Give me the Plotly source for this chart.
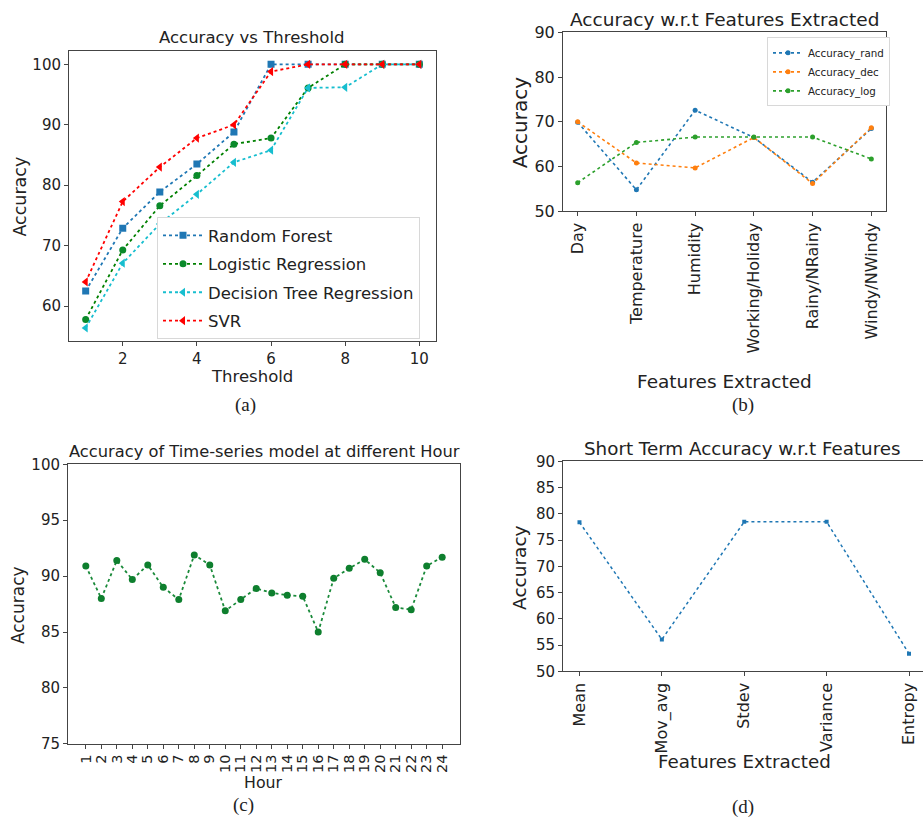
import plotly.graph_objects as go

W, H = 923, 831

# ---------------- data ----------------
thresholds = [1, 2, 3, 4, 5, 6, 7, 8, 9, 10]
acc_rf = [62.5, 72.9, 78.9, 83.5, 88.8, 100, 100, 100, 100, 100]
acc_lr = [57.8, 69.3, 76.6, 81.6, 86.8, 87.8, 96.1, 100, 100, 100]
acc_dt = [56.4, 67.1, 73.6, 78.5, 83.8, 85.8, 96.1, 96.2, 100, 100]
acc_svr = [64.0, 77.3, 83.0, 87.8, 90.0, 98.8, 100, 100, 100, 100]

features_b = ["Day", "Temperature", "Humidity", "Working/Holiday", "Rainy/NRainy", "Windy/NWindy"]
acc_rand = [69.9, 54.8, 72.6, 66.5, 56.5, 68.5]
acc_dec = [70.0, 60.8, 59.7, 66.5, 56.2, 68.7]
acc_log = [56.4, 65.4, 66.6, 66.6, 66.6, 61.7]

hours = list(range(1, 25))
acc_hour = [90.9, 88.0, 91.4, 89.7, 91.0, 89.0, 87.9, 91.9, 91.0, 86.9, 87.9, 88.9,
            88.5, 88.3, 88.2, 85.0, 89.8, 90.7, 91.5, 90.3, 87.2, 87.0, 90.9, 91.7]

features_d = ["Mean", "Mov_avg", "Stdev", "Variance", "Entropy"]
acc_short = [78.4, 56.1, 78.5, 78.5, 53.4]

# ---------------- helpers ----------------
FONT = "DejaVu Sans"
AX = "#444444"

def px(x):
    return x / W

def py(y):
    return 1 - y / H

def dom_x(a, b):
    return [px(a), px(b)]

def dom_y(top, bottom):
    return [py(bottom), py(top)]

fig = go.Figure()

# Panel (a)
fig.add_trace(go.Scatter(x=thresholds, y=acc_rf, name="Random Forest", mode="lines+markers",
                         line=dict(color="#1f77b4", dash="dot", width=1.8),
                         marker=dict(symbol="square", size=7, color="#1f77b4"),
                         xaxis="x", yaxis="y", legend="legend", legendgroup="g1"))
fig.add_trace(go.Scatter(x=thresholds, y=acc_lr, name="Logistic Regression", mode="lines+markers",
                         line=dict(color="#008000", dash="dot", width=1.8),
                         marker=dict(symbol="circle", size=7, color="#0a8a2a"),
                         xaxis="x", yaxis="y", legend="legend", legendgroup="g2"))
fig.add_trace(go.Scatter(x=thresholds, y=acc_dt, name="Decision Tree Regression", mode="lines+markers",
                         line=dict(color="#17becf", dash="dot", width=1.8),
                         marker=dict(symbol="triangle-left", size=8, color="#17becf"),
                         xaxis="x", yaxis="y", legend="legend", legendgroup="g3"))
fig.add_trace(go.Scatter(x=thresholds, y=acc_svr, name="SVR", mode="lines+markers",
                         line=dict(color="#ff0000", dash="dot", width=1.8),
                         marker=dict(symbol="triangle-left", size=8, color="#ff0000"),
                         xaxis="x", yaxis="y", legend="legend", legendgroup="g4"))

# Panel (b)
for name, vals, col in [("Accuracy_rand", acc_rand, "#1f77b4"),
                        ("Accuracy_dec", acc_dec, "#ff7f0e"),
                        ("Accuracy_log", acc_log, "#2ca02c")]:
    fig.add_trace(go.Scatter(x=features_b, y=vals, name=name, mode="lines+markers",
                             line=dict(color=col, dash="dot", width=1.6),
                             marker=dict(symbol="circle", size=5, color=col),
                             xaxis="x2", yaxis="y2", legend="legend2"))

# Panel (c)
fig.add_trace(go.Scatter(x=hours, y=acc_hour, name="Hour", mode="lines+markers",
                         line=dict(color="#1a8a3a", dash="dot", width=1.8),
                         marker=dict(symbol="circle", size=7, color="#0e7f2e"),
                         xaxis="x3", yaxis="y3", showlegend=False))

# Panel (d)
fig.add_trace(go.Scatter(x=features_d, y=acc_short, name="Short", mode="lines+markers",
                         line=dict(color="#1f77b4", dash="dot", width=1.5),
                         marker=dict(symbol="square", size=4, color="#1f77b4"),
                         xaxis="x4", yaxis="y4", showlegend=False))

axis_common = dict(showline=True, linecolor=AX, linewidth=1, ticks="outside", ticklen=4,
                   tickcolor=AX, showgrid=False, zeroline=False,
                   tickfont=dict(family=FONT, size=15, color="#222"))

fig.update_layout(
    width=W, height=H, margin=dict(l=0, r=0, t=0, b=0),
    paper_bgcolor="white", plot_bgcolor="white",
    font=dict(family=FONT, color="#222"),
    xaxis=dict(axis_common, domain=dom_x(69, 436), range=[0.55, 10.45],
               tickvals=[2, 4, 6, 8, 10], mirror=True, anchor="y"),
    yaxis=dict(axis_common, domain=dom_y(43, 340), range=[54.2, 102.2],
               tickvals=[60, 70, 80, 90, 100], mirror=True, anchor="x"),
    xaxis2=dict(axis_common, domain=dom_x(563, 886), range=[-0.25, 5.25], type="category",
                tickangle=-90, mirror=True, anchor="y2",
                tickfont=dict(family=FONT, size=16, color="#222")),
    yaxis2=dict(axis_common, domain=dom_y(24, 207), range=[50, 90],
                tickvals=[50, 60, 70, 80, 90], mirror=True, anchor="x2",
                tickfont=dict(family=FONT, size=16, color="#222")),
    xaxis3=dict(axis_common, domain=dom_x(68, 460), range=[-0.15, 25.15],
                tickvals=hours, tickangle=-90, mirror=True, anchor="y3",
                tickfont=dict(family=FONT, size=14.5, color="#222")),
    yaxis3=dict(axis_common, domain=dom_y(466, 752), range=[75, 100],
                tickvals=[75, 80, 85, 90, 95, 100], mirror=True, anchor="x3"),
    xaxis4=dict(axis_common, domain=dom_x(563, 923), range=[-0.2, 4.17], type="category",
                tickangle=-90, mirror=True, anchor="y4",
                tickfont=dict(family=FONT, size=16, color="#222")),
    yaxis4=dict(axis_common, domain=dom_y(463, 678), range=[50, 90],
                tickvals=[50, 55, 60, 65, 70, 75, 80, 85, 90], mirror=False, anchor="x4",
                tickfont=dict(family=FONT, size=15, color="#222")),
    legend=dict(x=px(157), y=py(213), xanchor="left", yanchor="top",
                bgcolor="white", bordercolor="#d8d8d8", borderwidth=1,
                font=dict(family=FONT, size=16.5, color="#222"),
                traceorder="grouped", tracegroupgap=4, itemwidth=40),
    legend2=dict(x=px(767), y=py(29), xanchor="left", yanchor="top",
                 bgcolor="white", bordercolor="#d8d8d8", borderwidth=1,
                 font=dict(family=FONT, size=10.3, color="#222"),
                 traceorder="normal", itemwidth=30),
)

def label(text, x, y, size, angle=0, family=FONT):
    fig.add_annotation(text=text, x=px(x), y=py(y), xref="paper", yref="paper",
                       xanchor="center", yanchor="middle", showarrow=False,
                       textangle=angle, font=dict(family=family, size=size, color="#222"))

# titles
label("Accuracy vs Threshold", 252, 29, 16.5)
label("Accuracy w.r.t Features Extracted", 724, 11, 18.5)
label("Accuracy of Time-series model at different Hour", 264, 453, 16.3)
label("Short Term Accuracy w.r.t Features", 742, 450, 18.3)

# axis titles
label("Accuracy", 20, 192, 17.5, -90)
label("Threshold", 252, 376, 16.5)
label("Accuracy", 520, 117, 20, -90)
label("Features Extracted", 724, 381, 18.5)
label("Accuracy", 18, 610, 17, -90)
label("Hour", 263, 792, 15.8)
label("Accuracy", 520, 572, 18.5, -90)
label("Features Extracted", 744, 770, 18.3)

# captions
SERIF = "Liberation Serif"
label("(a)", 245, 405, 19, family=SERIF)
label("(b)", 743, 405, 19, family=SERIF)
label("(c)", 243, 815, 19, family=SERIF)
label("(d)", 743, 817, 19, family=SERIF)

fig.write_html("out.html", config={"displayModeBar": False},
               post_script="document.body.style.margin='0';document.body.style.overflow='hidden';")
